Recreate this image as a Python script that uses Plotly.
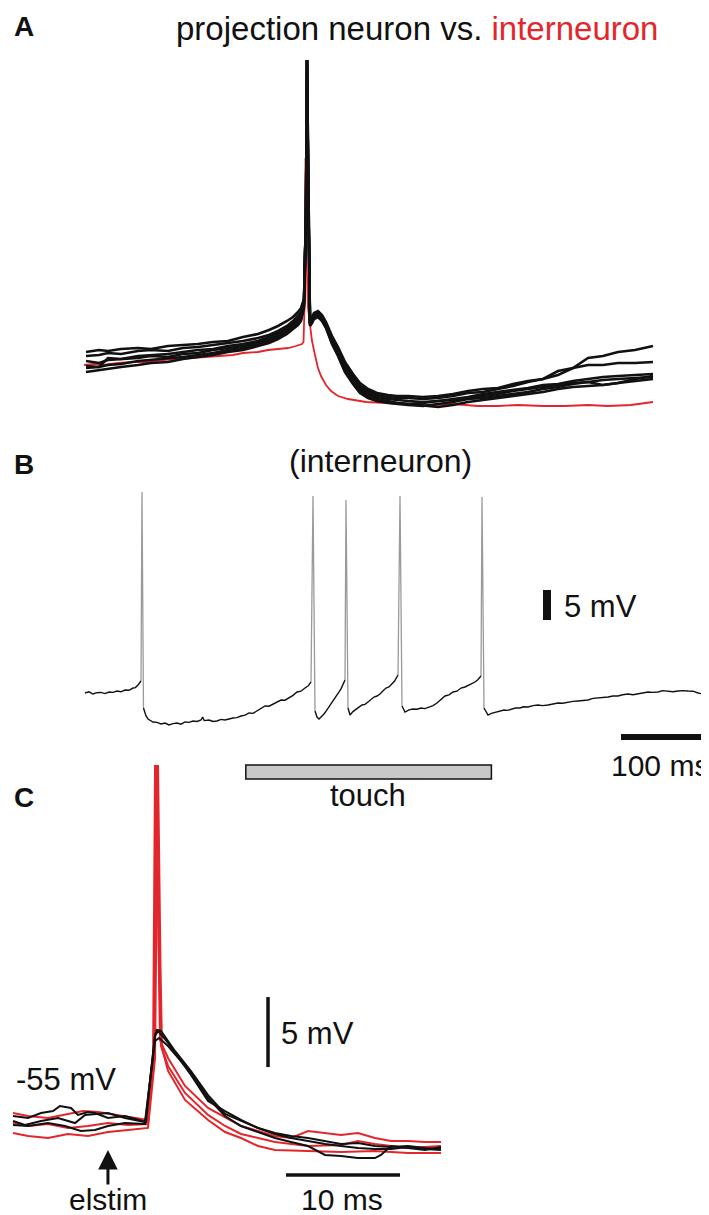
import plotly.graph_objects as go

# ---------------- DATA ----------------
# Panel A: spike-aligned traces (time in ms relative to spike, Vm in mV relative to baseline)
a_time_pre = [-110.5, -104, -99.5, -93, -84.5, -78, -69.5, -62, -54.5, -47, -39.5, -32,
              -24.5, -19, -14.5, -10, -7, -4.5, -3, -1.5, -0.5, 0]
a_time_post = [0.6, 1.5, 2.5, 3.5, 5.5, 7.5, 9.5, 12.5, 15.5, 19, 23, 26.5, 30.5, 35, 40.5,
               45, 50.5, 58, 65.5, 73, 80.5, 88, 95.5, 103, 110.5, 118, 125.5, 133, 140.5,
               148, 155.5, 164, 173]
a_proj_1 = [2.4, 2.8, 2.6, 3.0, 3.2, 3.0, 3.6, 3.8, 4.0, 4.4, 4.6, 5.4, 6.0, 6.8, 7.6, 8.6, 9.4,
            10.4, 11.2, 13.0, 30, 60.8,
            35, 8.5, 9.4, 10.2, 10.6, 9.8, 8.4, 5.6, 3.4, 0.4, -2.0, -3.8, -5.0, -5.8, -6.2, -6.4,
            -6.4, -6.6, -6.4, -6.0, -5.4, -5.0, -4.8, -4.0, -3.4, -3.0, -1.4, -0.8, 1.2, 1.6, 2.4,
            2.8, 3.6]
a_proj_2 = [1.6, 1.8, 2.2, 2.0, 2.6, 2.8, 2.6, 3.2, 3.4, 3.8, 4.2, 4.6, 5.2, 5.8, 6.6, 7.6, 8.6,
            9.6, 10.4, 12.6, 30, 60.8,
            35, 8.2, 9.0, 9.8, 10.2, 9.4, 8.0, 5.0, 2.8, -0.2, -2.6, -4.4, -5.4, -6.2, -6.6, -6.8,
            -6.8, -7.0, -6.8, -6.4, -5.8, -5.6, -5.0, -4.4, -3.6, -3.0, -2.2, -0.8, -0.2, -0.2,
            0.2, 0.2, 0.4]
a_proj_3 = [-0.4, -0.6, 1.2, 1.0, 1.6, 1.8, 2.0, 2.4, 2.8, 3.0, 3.6, 4.0, 4.6, 5.4, 6.2, 7.2, 8.2,
            9.0, 9.8, 12.4, 30, 60.8,
            35, 8.0, 8.8, 9.6, 10.0, 9.2, 7.8, 4.8, 2.4, -0.6, -3.0, -4.8, -5.8, -6.6, -7.0, -7.2,
            -7.4, -7.6, -7.4, -7.0, -6.6, -6.0, -5.6, -5.2, -4.8, -4.2, -4.0, -3.4, -3.0, -2.6,
            -2.4, -2.2, -2.0]
a_proj_4 = [0.6, 0.2, 0.8, 1.0, 1.2, 1.6, 1.4, 2.0, 2.2, 2.8, 3.2, 3.6, 4.2, 5.0, 5.8, 6.8, 7.8,
            8.6, 9.4, 12.0, 30, 60.8,
            35, 8.0, 8.6, 9.4, 9.8, 9.0, 7.6, 4.4, 2.0, -1.0, -3.4, -5.2, -6.2, -7.0, -7.4, -7.8,
            -8.0, -7.8, -7.4, -7.2, -6.8, -6.4, -6.0, -5.4, -5.0, -4.6, -4.2, -3.8, -3.6, -4.2,
            -3.8, -3.0, -2.4]
a_proj_5 = [-0.8, -0.6, -0.2, 0.0, 0.6, 0.8, 1.2, 1.4, 1.8, 2.2, 2.8, 3.2, 4.0, 4.6, 5.4, 6.4,
            7.4, 8.2, 9.0, 11.6, 30, 60.8,
            35, 7.8, 8.4, 9.2, 9.6, 8.8, 7.4, 4.2, 1.8, -1.4, -3.8, -5.6, -6.6, -7.4, -7.8, -8.0,
            -8.2, -8.4, -8.0, -7.6, -7.0, -6.8, -6.4, -6.0, -5.6, -5.0, -4.6, -4.0, -3.6, -3.2,
            -3.0, -2.8, -2.6]
a_proj_6 = [-1.6, -1.2, -1.0, -0.6, -0.2, 0.2, 0.4, 1.0, 1.4, 1.8, 2.4, 2.8, 3.6, 4.2, 5.0, 6.0,
            7.0, 7.8, 8.6, 11.2, 30, 60.8,
            35, 7.6, 8.2, 9.0, 9.4, 8.6, 7.2, 4.0, 1.6, -1.6, -4.0, -5.8, -6.8, -7.4, -7.6, -7.8,
            -8.0, -8.4, -8.6, -8.2, -7.6, -7.2, -6.8, -6.4, -6.0, -5.6, -5.0, -4.6, -4.4, -4.2,
            -3.8, -3.4, -3.0]
a_inter_time = [-111.5, -106.5, -102, -94.5, -87, -79.5, -72, -64.5, -54.5, -44.5, -37, -32,
                -24.5, -19.5, -14.5, -9.5, -5.5, -2.5, -1.75, -1.25, -0.75, -0.25, 0.5, 1.5,
                2.5, 4, 5.5, 7, 9.5, 12, 15.5, 20.5, 29.5, 40.5, 50.5, 62, 73, 85.5, 95.5,
                105.5, 118, 129, 140.5, 150.5, 162, 168, 173]
a_inter_vm = [-0.2, 0.0, -0.2, 0.2, 0.4, 0.4, 0.8, 1.0, 1.2, 1.6, 1.8, 2.2, 2.4, 2.8, 3.0, 3.2,
              3.6, 4.0, 4.4, 11.2, 41.2, 21.2, 11.2, 7.6, 4.6, 1.8, -0.8, -2.4, -4.2, -5.4, -6.4,
              -7.0, -7.6, -7.8, -8.0, -8.2, -8.0, -8.4, -8.4, -8.2, -8.4, -8.4, -8.2, -8.4, -8.2,
              -7.8, -7.6]

# Panel B: interneuron trace with touch, samples (time ms, Vm mV relative to start)
b_samples = [
    (0, 0), (5, 0.2), (10, -0.17), (15, 0.05), (20, 0.1), (25, -0.1), (30, 0.17), (35, 0.1),
    (40, 0.33), (45, 0.2), (50, 0.5), (55, 0.45), (60, 0.83), (63, 0.9), (66.25, 1.33),
    (70, 2.0), (71.25, 33.5),
    (73.1, -2.5), (76.25, -3.83), (78.75, -4.33), (82, -4.6), (85, -4.83), (90, -4.9),
    (95, -5.17), (100, -5.0), (105, -5.33), (110, -5.1), (115, -5.0), (120, -5.2),
    (125, -4.83), (130, -4.9), (135, -4.67), (140, -4.75), (145, -4.5), (147, -4.0),
    (149, -4.6), (155, -4.5), (160, -4.75), (165, -4.67), (170, -4.4), (175, -4.5),
    (180, -4.3), (185, -4.17), (190, -4.1), (195, -3.83), (200, -3.7), (205, -3.33),
    (210, -3.4), (215, -3.0), (220, -2.6), (225, -2.17), (230, -2.2), (235, -1.83),
    (240, -1.4), (245, -1.17), (250, -1.2), (255, -0.83), (260, -0.4), (265, 0.17),
    (270, 0.3), (275, 0.83), (279, 1.2), (282.5, 1.83), (285, 32.83),
    (287.5, -3.0), (290, -4.0), (292.5, -4.33), (295, -4.0), (298.75, -3.5), (302, -2.9),
    (305, -2.33), (308, -1.8), (311.25, -1.17), (314, -0.6), (317.5, 0.17), (320, 0.7),
    (322.5, 1.33), (325, 2.17), (326.25, 32.17),
    (328.75, -2.5), (331.25, -3.67), (335, -3.1), (338.75, -2.67), (342, -2.4),
    (346.25, -2.0), (350, -1.9), (353.75, -1.5), (357, -1.2), (361.25, -0.67), (365, -0.5),
    (368.75, -0.17), (372, 0.3), (376.25, 0.83), (380, 1.0), (383.75, 1.5), (387, 2.0),
    (391.25, 3.0), (393.75, 32.83),
    (396.25, -2.17), (400, -3.17), (405, -2.8), (410, -2.67), (415, -2.7), (420, -2.5),
    (425, -2.6), (430, -2.33), (435, -2.1), (440, -1.67), (445, -1.1), (450, -0.5),
    (455, -0.3), (460, 0.17), (465, 0.3), (470, 0.83), (475, 1.0), (480, 1.33), (484, 1.5),
    (487.5, 1.83), (491, 2.2), (495, 2.83), (496.25, 32.67),
    (498.75, -2.5), (503.75, -3.67), (508, -3.4), (513.75, -3.17), (518, -3.0),
    (523.75, -2.83), (528, -2.9), (533.75, -2.67), (538, -2.5), (543.75, -2.5), (548, -2.3),
    (553.75, -2.33), (560, -2.1), (566.25, -2.0), (572, -2.1), (578.75, -2.0), (585, -1.8),
    (591.25, -1.67), (597, -1.7), (603.75, -1.5), (610, -1.4), (616.25, -1.33), (622, -1.2),
    (628.75, -1.17), (635, -0.9), (641.25, -0.83), (647, -0.8), (653.75, -0.67), (660, -0.5),
    (666.25, -0.5), (672, -0.3), (678.75, -0.17), (685, -0.3), (691.25, -0.17), (697, 0.0),
    (703.75, 0.17), (710, 0.1), (716.25, 0.17), (722, 0.4), (728.75, 0.33), (735, 0.2),
    (741.25, 0.33), (747, 0.4), (753.75, 0.33), (760, 0.3), (766.25, 0.0), (772.5, -0.17),
]
b_time = [s[0] for s in b_samples]
b_vm = [s[1] for s in b_samples]
touch_on, touch_off = 201, 508          # ms
b_bar_ms, b_bar_mv = 100, 5

# Panel C: responses to electrical stimulation (time in ms, Vm in mV)
c_black_1_t = [0, 1.32, 2.46, 3.51, 4.12, 5.09, 5.70, 6.58, 7.19, 8.33, 9.82, 11.23, 11.67,
               12.02, 12.46, 12.63, 12.98, 13.60, 14.21, 15.61, 17.11, 18.60, 20.0, 21.49,
               22.98, 24.39, 25.88, 27.37, 28.77, 30.26, 31.75, 33.16, 34.65, 36.14, 37.54]
c_black_1_v = [-54.29, -54.43, -54.07, -53.93, -53.57, -53.71, -54.21, -54.0, -54.07, -54.43,
               -54.29, -54.64, -54.71, -51.79, -48.5, -48.14, -48.21, -48.93, -49.64, -51.07,
               -52.79, -54.14, -54.64, -55.14, -55.5, -55.71, -55.86, -56.07, -56.29, -56.21,
               -56.43, -56.5, -56.43, -56.57, -56.64]
c_black_2_t = [0, 1.05, 2.46, 3.95, 5.44, 6.32, 8.33, 9.82, 11.58, 12.46, 12.81, 13.60, 15.61,
               17.11, 18.60, 20.0, 21.49, 22.98, 24.39, 25.88, 27.37, 28.77, 30.26, 31.75,
               32.28, 33.16, 34.65, 36.14, 37.54]
c_black_2_v = [-54.64, -54.93, -54.64, -54.43, -54.79, -54.21, -54.07, -54.43, -54.71, -48.93,
               -48.71, -49.29, -51.21, -53.0, -54.29, -55.0, -55.43, -55.86, -56.14, -56.43,
               -57.07, -57.14, -57.29, -57.29, -57.07, -56.43, -56.57, -56.71, -56.5]
c_black_3_t = [0, 1.32, 3.07, 4.56, 5.96, 7.19, 8.33, 9.82, 11.58, 12.46, 12.72, 13.60, 15.61,
               17.11, 18.60, 20.0, 21.49, 22.98, 24.39, 25.88, 27.37, 28.77, 30.26, 31.75,
               33.16, 34.65, 36.14, 37.54]
c_black_3_v = [-54.93, -55.0, -54.79, -55.0, -55.36, -55.29, -55.0, -54.79, -54.86, -48.57,
               -48.21, -49.07, -51.36, -53.21, -53.93, -54.57, -55.14, -55.57, -55.86, -56.07,
               -56.29, -56.43, -56.57, -56.64, -56.64, -56.5, -56.64, -56.71]
c_red_1_t = [0, 1.32, 3.07, 4.82, 6.14, 7.46, 9.21, 10.96, 11.84, 12.28, 12.46, 12.72, 12.89,
             13.60, 15.09, 17.11, 20.0, 22.98, 24.39, 25.88, 27.37, 28.77, 30.26, 31.75, 33.16,
             34.65, 36.14, 37.54]
c_red_1_v = [-54.07, -54.29, -54.43, -54.14, -53.93, -54.0, -54.21, -54.43, -54.57, -50.86,
             -29.21, -39.43, -48.86, -50.14, -52.14, -53.71, -55.0, -55.71, -55.86, -55.36,
             -55.5, -55.64, -55.5, -55.86, -56.07, -56.07, -56.14, -56.14]
c_red_2_t = [0, 1.32, 3.07, 4.82, 6.58, 8.33, 10.09, 11.84, 12.37, 12.59, 12.81, 12.98, 13.60,
             15.09, 17.11, 18.60, 20.0, 22.98, 25.88, 28.77, 30.26, 31.75, 34.65, 37.54]
c_red_2_v = [-54.79, -55.0, -54.86, -55.14, -55.0, -54.79, -54.93, -54.86, -49.43, -29.21,
             -43.0, -49.29, -50.71, -52.64, -54.21, -55.0, -55.57, -56.14, -56.43, -56.36,
             -56.07, -56.29, -56.57, -56.43]
c_red_3_t = [0, 1.32, 3.07, 4.82, 6.58, 8.33, 10.09, 11.84, 12.46, 12.72, 12.94, 13.07, 13.60,
             15.09, 17.11, 18.60, 20.0, 21.49, 22.98, 25.88, 28.77, 31.75, 34.65, 37.54]
c_red_3_v = [-55.5, -55.71, -55.86, -55.57, -55.71, -55.43, -55.29, -55.14, -50.14, -29.21,
             -43.71, -49.43, -51.07, -53.14, -54.57, -55.43, -55.86, -56.43, -56.71, -56.79,
             -56.86, -56.79, -56.93, -56.93]
c_stim_time = 8.33
c_bar_ms, c_bar_mv = 10, 5
c_rest_label = "-55 mV"

# ---------------- LAYOUT HELPERS ----------------
W, H = 709, 1215
BLACK = "#111111"
RED = "#e3262b"
FONT = "Liberation Sans, Arial, Helvetica, sans-serif"


def xr(p0, v0, s):
    return [v0 - p0 / s, v0 + (W - p0) / s]


def yr(p0, v0, s):
    return [v0 - (H - p0) / s, v0 + p0 / s]


def pp(px, py):
    return px / W, 1 - py / H


fig = go.Figure()

# ---- Panel A (x / y) ----
fig.add_trace(go.Scatter(x=a_inter_time, y=a_inter_vm, mode="lines",
                         line=dict(color=RED, width=1.8), xaxis="x", yaxis="y"))
a_time = a_time_pre + a_time_post
for tr in [a_proj_6, a_proj_5, a_proj_4, a_proj_3, a_proj_2, a_proj_1]:
    fig.add_trace(go.Scatter(x=a_time, y=tr, mode="lines",
                             line=dict(color=BLACK, width=2.6), xaxis="x", yaxis="y"))

# ---- Panel B (x2 / y2) ----
spike_idx = [i for i, v in enumerate(b_vm) if v > 10]
bx_black, by_black, bx_gray, by_gray = [], [], [], []
for i, (t, v) in enumerate(zip(b_time, b_vm)):
    if i in spike_idx:
        bx_black.append(None)
        by_black.append(None)
    else:
        bx_black.append(t)
        by_black.append(v)
for i in spike_idx:
    bx_gray += [b_time[i - 1], b_time[i], b_time[i + 1], None]
    by_gray += [b_vm[i - 1], b_vm[i], b_vm[i + 1], None]
fig.add_trace(go.Scatter(x=bx_gray, y=by_gray, mode="lines",
                         line=dict(color="#9a9a9a", width=1.3), xaxis="x2", yaxis="y2"))
fig.add_trace(go.Scatter(x=bx_black, y=by_black, mode="lines",
                         line=dict(color=BLACK, width=1.4), xaxis="x2", yaxis="y2"))

# ---- Panel C (x3 / y3) ----
for t, v in [(c_red_1_t, c_red_1_v), (c_red_2_t, c_red_2_v), (c_red_3_t, c_red_3_v)]:
    fig.add_trace(go.Scatter(x=t, y=v, mode="lines", line=dict(color=RED, width=2.0),
                             xaxis="x3", yaxis="y3"))
for t, v in [(c_black_1_t, c_black_1_v), (c_black_2_t, c_black_2_v),
             (c_black_3_t, c_black_3_v)]:
    fig.add_trace(go.Scatter(x=t, y=v, mode="lines", line=dict(color=BLACK, width=2.0),
                             xaxis="x3", yaxis="y3"))

ax_common = dict(visible=False, showgrid=False, zeroline=False, fixedrange=True,
                 domain=[0, 1])
fig.update_layout(
    width=W, height=H, autosize=False, showlegend=False,
    margin=dict(l=0, r=0, t=0, b=0),
    paper_bgcolor="white", plot_bgcolor="rgba(0,0,0,0)",
    xaxis=dict(range=xr(299, 0, 2.0), anchor="y", **ax_common),
    yaxis=dict(range=yr(356, 0, 5.0), anchor="x", **ax_common),
    xaxis2=dict(range=xr(77, 0, 0.8), anchor="y2", **ax_common),
    yaxis2=dict(range=yr(685, 0, 6.0), anchor="x2", **ax_common),
    xaxis3=dict(range=xr(5, 0, 11.4), anchor="y3", **ax_common),
    yaxis3=dict(range=yr(1118, -55, 14.0), anchor="x3", **ax_common),
    font=dict(family=FONT, color=BLACK),
)

# ---- scale bars / stimulus bar ----
shapes = [
    dict(type="line", xref="x2", yref="y2", x0=577.5, x1=577.5, y0=12.17, y1=12.17 + b_bar_mv,
         line=dict(color=BLACK, width=8)),
    dict(type="line", xref="x2", yref="y2", x0=670, x1=670 + b_bar_ms, y0=-7.33, y1=-7.33,
         line=dict(color=BLACK, width=6)),
    dict(type="rect", xref="x2", yref="y2", x0=touch_on, x1=touch_off, y0=-14.33, y1=-12.0,
         fillcolor="#c8c8c8", line=dict(color=BLACK, width=1.5)),
    dict(type="line", xref="x3", yref="y3", x0=22.37, x1=22.37, y0=-50.79, y1=-50.79 + c_bar_mv,
         line=dict(color=BLACK, width=3.5)),
    dict(type="line", xref="x3", yref="y3", x0=23.95, x1=23.95 + c_bar_ms, y0=-58.5, y1=-58.5,
         line=dict(color=BLACK, width=3.5)),
]
fig.update_layout(shapes=shapes)

ann = []


def text(px, py, s, size=31, xanchor="center", bold=False, color=BLACK):
    x, y = pp(px, py)
    ann.append(dict(x=x, y=y, xref="paper", yref="paper", text=("<b>%s</b>" % s) if bold else s,
                    showarrow=False, xanchor=xanchor, yanchor="middle", borderpad=0,
                    font=dict(size=size, color=color, family=FONT)))


text(16, 19, "A", size=28, bold=True)
text(16, 456, "B", size=28, bold=True)
text(16, 789, "C", size=28, bold=True)
text(409, 21, 'projection neuron vs. <span style="color:%s">interneuron</span>' % RED, size=33)
text(372, 453, "(interneuron)", size=32)
text(555, 598, "%d mV" % b_bar_mv, xanchor="left")
text(652, 757, "%d ms" % b_bar_ms, size=30)
text(360, 787, "touch")
text(272, 1025, "%d mV" % c_bar_mv, xanchor="left")
text(7, 1071, c_rest_label, xanchor="left")
text(334, 1191, "%d ms" % c_bar_ms, size=30)
text(100, 1191, "elstim", size=30)
ann.append(dict(x=c_stim_time, y=-56.71, xref="x3", yref="y3", ax=c_stim_time, ay=-59.29,
                axref="x3", ayref="y3", showarrow=True, arrowhead=2, arrowsize=1.3,
                arrowwidth=3, arrowcolor=BLACK, text=""))
fig.update_layout(annotations=ann)

fig.write_html("out.html")
